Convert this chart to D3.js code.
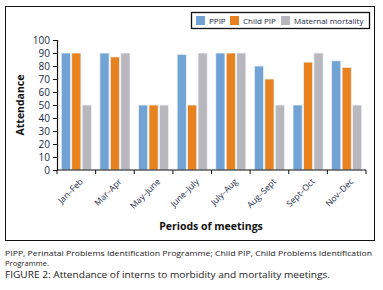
<!DOCTYPE html>
<html lang="en">
<head>
    <meta charset="UTF-8">
    <title>Attendance</title>
    <script src="https://cdn.jsdelivr.net/npm/d3@7/dist/d3.min.js"></script>
    <style>
        body { margin: 0; background: #fff; }
        text { font-family: "Open Sans", "Liberation Sans", sans-serif; }
    </style>
</head>
<body>
<script>
    const width = 383;
    const height = 290;

    // data
    const periods = ['Jan–Feb', 'Mar–Apr', 'May–June', 'June–July', 'July–Aug', 'Aug–Sept', 'Sept–Oct', 'Nov–Dec'];
    const seriesNames = ['PPIP', 'Child PIP', 'Maternal mortality'];
    const ppip = [90, 90, 50, 89, 90, 80, 50, 84];
    const childPip = [90, 87, 50, 50, 90, 70, 83, 79];
    const maternal = [50, 90, 50, 90, 90, 50, 90, 50];
    const yTicks = [0, 10, 20, 30, 40, 50, 60, 70, 80, 90, 100];
    const colors = ['#72a3d5', '#e8821f', '#b8b7bd'];

    const svg = d3.select('body').append('svg')
        .attr('width', width)
        .attr('height', height);

    // frame
    svg.append('rect')
        .attr('x', 5.5).attr('y', 6.5)
        .attr('width', 369).attr('height', 234)
        .attr('fill', 'none').attr('stroke', '#111').attr('stroke-width', 1);

    const x = d3.scaleBand().domain(periods).range([57, 366]);
    const xs = d3.scaleBand().domain(seriesNames).range([3, x.bandwidth() - 3]).padding(0.12);
    const y = d3.scaleLinear().domain([0, 100]).range([170, 40]);

    const rows = periods.map((p, i) => ({ period: p, values: [ppip[i], childPip[i], maternal[i]] }));

    const groups = svg.append('g').selectAll('g')
        .data(rows).enter().append('g')
        .attr('transform', d => `translate(${x(d.period)},0)`);

    groups.selectAll('rect')
        .data(d => d.values.map((v, j) => ({ name: seriesNames[j], value: v, j: j })))
        .enter().append('rect')
        .attr('x', d => xs(d.name))
        .attr('y', d => y(d.value))
        .attr('width', xs.bandwidth())
        .attr('height', d => y(0) - y(d.value))
        .attr('fill', d => colors[d.j])
        .attr('stroke', '#eef2f6')
        .attr('stroke-width', 0.8);

    // y axis
    const yAxis = svg.append('g')
        .attr('transform', 'translate(57,0)')
        .call(d3.axisLeft(y).tickValues(yTicks).tickSize(4).tickPadding(3));
    yAxis.select('.domain').attr('stroke', '#111').attr('stroke-width', 1.2);
    yAxis.selectAll('.tick line').attr('stroke', '#111');
    yAxis.selectAll('text').attr('font-size', 10).attr('fill', '#1c2a48')
        .style('font-family', '"Open Sans", sans-serif');

    // x axis, ticks at band edges
    const xAxis = svg.append('g')
        .attr('transform', 'translate(0,170)');
    xAxis.append('line')
        .attr('x1', 57).attr('x2', 366)
        .attr('stroke', '#111').attr('stroke-width', 1.2);
    const edges = periods.map(p => x(p) + x.bandwidth()).concat([x(periods[0])]);
    xAxis.selectAll('.edge').data(edges).enter().append('line')
        .attr('class', 'edge')
        .attr('x1', d => d).attr('x2', d => d)
        .attr('y1', 0).attr('y2', 4)
        .attr('stroke', '#111');
    xAxis.selectAll('.lab').data(periods).enter().append('text')
        .attr('class', 'lab')
        .attr('transform', d => `translate(${x(d) + x.bandwidth() / 2 + 3},${8}) rotate(-45)`)
        .attr('text-anchor', 'end')
        .attr('dy', '0.7em')
        .attr('font-size', 8.5)
        .attr('fill', '#1c2a48')
        .text(d => d);

    // axis titles
    svg.append('text')
        .attr('transform', 'translate(24,105) rotate(-90)')
        .attr('text-anchor', 'middle')
        .attr('font-size', 10.5).attr('font-weight', 'bold').attr('fill', '#111')
        .text('Attendance');
    svg.append('text')
        .attr('x', 211).attr('y', 230)
        .attr('text-anchor', 'middle')
        .attr('font-size', 10.5).attr('font-weight', 'bold').attr('fill', '#111')
        .text('Periods of meetings');

    // legend
    svg.append('rect')
        .attr('x', 191.5).attr('y', 12.5)
        .attr('width', 178).attr('height', 16)
        .attr('fill', '#fff').attr('stroke', '#111').attr('stroke-width', 1.3);
    const legX = [196, 230, 281];
    const leg = svg.append('g').selectAll('g')
        .data(seriesNames).enter().append('g')
        .attr('transform', (d, i) => `translate(${legX[i]},16)`);
    leg.append('rect')
        .attr('width', 9).attr('height', 9)
        .attr('fill', (d, i) => colors[i]);
    leg.append('text')
        .attr('x', 13).attr('y', 8)
        .attr('font-size', 8).attr('fill', '#1c2a48')
        .text(d => d);

    // caption
    const cap = svg.append('g').attr('fill', '#222');
    cap.append('text').attr('x', 5).attr('y', 255.5).attr('font-size', 7)
        .attr('textLength', 367).attr('lengthAdjust', 'spacingAndGlyphs')
        .text('PIPP, Perinatal Problems Identification Programme; Child PIP, Child Problems Identification');
    cap.append('text').attr('x', 5).attr('y', 265.5).attr('font-size', 7)
        .attr('textLength', 44).attr('lengthAdjust', 'spacingAndGlyphs')
        .text('Programme.');
    cap.append('text').attr('x', 5).attr('y', 278).attr('font-size', 9.2)
        .attr('textLength', 325).attr('lengthAdjust', 'spacingAndGlyphs')
        .text('FIGURE 2: Attendance of interns to morbidity and mortality meetings.');
</script>
</body>
</html>
